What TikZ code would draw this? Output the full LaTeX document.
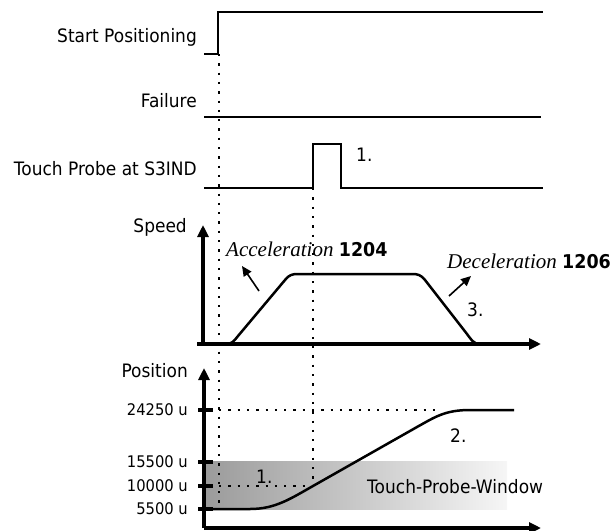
\documentclass[tikz,border=0pt]{standalone}
\usepackage{fontspec}
\setmainfont{DejaVu Sans}[FakeStretch=0.92]
\newfontfamily\serifit{Liberation Serif}
\usetikzlibrary{arrows.meta}
\newcommand{\lblsize}{\fontsize{18.5}{20}\selectfont}
\newcommand{\ticksize}{\fontsize{16}{18}\selectfont}
\tikzset{
  sig/.style={line width=2.7pt},
  axis/.style={line width=3.3pt,-{Triangle[length=12pt,width=11pt]}},
  tick/.style={line width=3.3pt},
  curve/.style={line width=2.5pt,line join=round},
  dots/.style={line width=2.3pt,dash pattern=on 2.3pt off 7pt},
  smallarrow/.style={line width=1.6pt,-{Triangle[length=10pt,width=9pt]}},
  lbl/.style={inner sep=0pt,font=\lblsize},
  ticklbl/.style={inner sep=0pt,font=\ticksize,anchor=east}
}
\begin{document}
\begin{tikzpicture}[x=1pt,y=-1pt]
    \useasboundingbox (0,0) rectangle (615,530);
    \shade[left color={rgb,255:red,155;green,155;blue,155},right color={rgb,255:red,246;green,246;blue,246}] (205,461) rectangle (507,509);
    \draw[dots] (219,54) -- (219,507);
    \draw[dots] (313,188) -- (313,486);
    \draw[dots] (219,410) -- (440,410);
    \draw[dots] (219,486) -- (313,486);
    \draw[sig] (204,54) -- (218,54) -- (218,12) -- (543,12);
    \draw[sig] (204,117) -- (541,117);
    \draw[sig] (204,188) -- (313,188) -- (313,144) -- (341,144) -- (341,188) -- (543,188);
    \node[lbl,anchor=base east] (start) at (197,42) {Start Positioning};
    \node[lbl,anchor=base east] (failure) at (197,107) {Failure};
    \node[lbl,anchor=base east] (probe) at (197,175) {Touch Probe at S3IND};
    \node[lbl,anchor=base west] (mark1) at (356,161) {1.};
    \coordinate (sorigin) at (203,344);
    \coordinate (stop) at (203,225);
    \coordinate (sleft) at (197,344);
    \coordinate (sright) at (541,344);
    \draw[curve] (210,344) -- (226,344) .. controls (232,344) and (234,341) .. (238,336) -- (285,280) .. controls (289,275) and (292,274) .. (298,274) -- (412,274) .. controls (418,274) and (421,275) .. (425,280) -- (467,334) .. controls (471,339) and (473,344) .. (480,344);
    \draw[axis] (sorigin) -- (stop);
    \draw[axis] (sleft) -- (sright);
    \node[lbl,anchor=base east] (speed) at (187,232) {Speed};
    \node[lbl,anchor=base west] (acc) at (226,256) {{\serifit\itshape\fontsize{21}{22}\selectfont Acceleration} {\bfseries\fontsize{19}{20}\selectfont 1204}};
    \node[lbl,anchor=base west] (dec) at (447,268) {{\serifit\itshape\fontsize{21}{22}\selectfont Deceleration} {\bfseries\fontsize{19}{20}\selectfont 1206}};
    \node[lbl,anchor=base west] (mark3) at (467,316) {3.};
    \coordinate (acc0) at (259,291);
    \coordinate (acc1) at (242,266);
    \coordinate (dec0) at (449,296);
    \coordinate (dec1) at (471,276);
    \draw[smallarrow] (acc0) -- (acc1);
    \draw[smallarrow] (dec0) -- (dec1);
    \coordinate (porigin) at (204,528);
    \coordinate (ptop) at (204,368);
    \coordinate (pright) at (541,528);
    \draw[curve] (205,509) -- (250,509) .. controls (275,509) and (290,499) .. (313,486) -- (417,427) .. controls (435,417) and (445,410) .. (470,410) -- (514,410);
    \draw[axis] (porigin) -- (ptop);
    \draw[axis] (porigin) -- (pright);
    \node[lbl,anchor=base east] (position) at (188,377) {Position};
    \foreach \lev/\val in {410/24250,462/15500,486/10000,509/5500} {
        \draw[tick] (198,\lev) -- (213,\lev);
        \node[ticklbl] (tick\val) at (188,\lev) {\val\ u};
    }
    \node[lbl,anchor=base west] (mark2) at (450,442) {2.};
    \node[lbl,anchor=base west] (markw) at (256,483) {1.};
    \node[lbl,anchor=base west] (window) at (367,493) {Touch-Probe-Window};
\end{tikzpicture}
\end{document}
